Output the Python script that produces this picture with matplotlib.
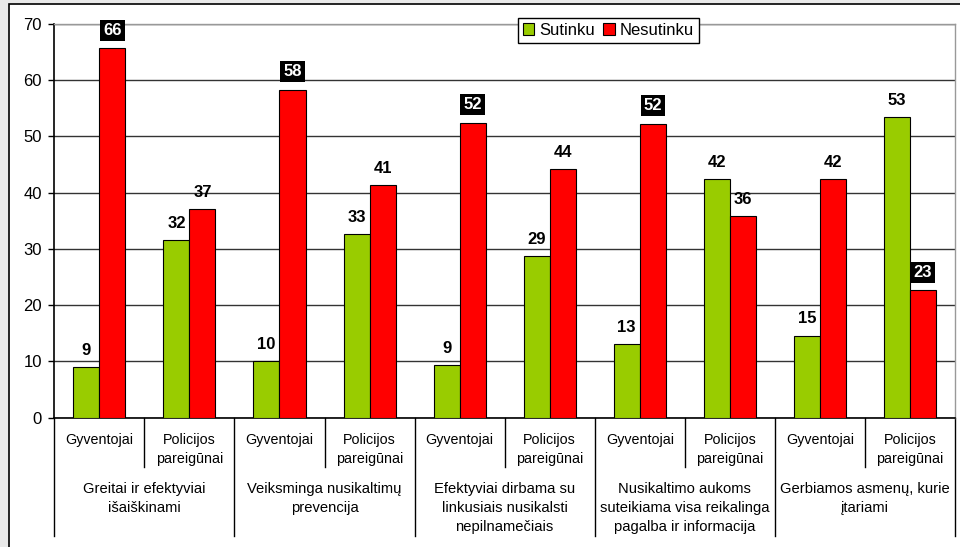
import matplotlib.pyplot as plt
from matplotlib.patches import Rectangle
import numpy as np

plt.rcParams['font.family'] = ['Liberation Sans', 'DejaVu Sans']

groups = ["Greitai ir efektyviai\nišaiškinami",
          "Veiksminga nusikaltimų\nprevencija",
          "Efektyviai dirbama su\nlinkusiais nusikalsti\nnepilnamečiais",
          "Nusikaltimo aukoms\nsuteikiama visa reikalinga\npagalba ir informacija",
          "Gerbiamos asmenų, kurie\nįtariami"]
subgroups = ["Gyventojai", "Policijos\npareigūnai"]
sutinku = [9.0, 31.6, 10.0, 32.6, 9.3, 28.8, 13.1, 42.4, 14.6, 53.4]
nesutinku = [65.6, 37.1, 58.3, 41.4, 52.4, 44.2, 52.2, 35.9, 42.4, 22.7]
# labels drawn white on black in the original
dark_labels = {("n", 0), ("n", 2), ("n", 4), ("n", 6), ("n", 9)}

W, H = 960, 547
fig = plt.figure(figsize=(W / 100, H / 100), dpi=100)
fig.patch.set_facecolor("#e9e9e9")

# white frame
fig.patches.append(Rectangle((9 / W, -0.1), 1.2, (H - 4) / H + 0.1,
                             transform=fig.transFigure, facecolor="white",
                             edgecolor="black", linewidth=1.2, zorder=-10))

x0, x1, ytop, ybot = 54.3, 955, 23.7, 417.7
ax = fig.add_axes([x0 / W, (H - ybot) / H, (x1 - x0) / W, (ybot - ytop) / H])
ax.set_facecolor("none")
ax.set_zorder(1)

n = len(sutinku)
x = np.arange(n)
w = 0.289
ax.bar(x - w / 2, sutinku, w, color="#99cc00", edgecolor="black", linewidth=0.8, label="Sutinku", zorder=3)
ax.bar(x + w / 2, nesutinku, w, color="#ff0000", edgecolor="black", linewidth=0.8, label="Nesutinku", zorder=3)

for key, vals, off in (("s", sutinku, -w / 2), ("n", nesutinku, w / 2)):
    for i, v in enumerate(vals):
        if (key, i) in dark_labels:
            ax.annotate(f"{round(v)}", (x[i] + off, v), xytext=(0, 7.5), textcoords="offset points",
                        ha="center", va="bottom", fontsize=12, fontweight="bold", color="white",
                        bbox=dict(boxstyle="square,pad=0.18", facecolor="black", edgecolor="none"),
                        zorder=5)
        else:
            ax.annotate(f"{round(v)}", (x[i] + off, v), xytext=(0, 6.5), textcoords="offset points",
                        ha="center", va="bottom", fontsize=12, fontweight="bold", color="black",
                        zorder=5)

ax.set_xlim(-0.5, n - 0.5)
ax.set_ylim(0, 70)
ax.set_yticks(range(0, 71, 10))
ax.yaxis.grid(True, color="#333333", linewidth=1.0)
ax.set_axisbelow(True)
ax.tick_params(axis="y", length=4, width=1, pad=5, labelsize=12)
ax.set_xticks([])

for s in ("left", "bottom"):
    ax.spines[s].set_color("black")
    ax.spines[s].set_linewidth(1.2)
for s in ("top", "right"):
    ax.spines[s].set_color("#999999")
    ax.spines[s].set_linewidth(1.0)

# category axis: separators and labels
trans = ax.get_xaxis_transform()
ph = ybot - ytop
def yf(py):
    return (ybot - py) / ph

for b in range(n + 1):
    bx = b - 0.5
    end = 536 if b % 2 == 0 else 467
    ax.plot([bx, bx], [0, yf(end)], color="black", linewidth=1.0, transform=trans, clip_on=False)

for i in range(n):
    lines = subgroups[i % 2].split("\n")
    for j, t in enumerate(lines):
        ax.text(x[i], yf(440 + 19 * j), t, transform=trans, ha="center", va="center", fontsize=10.3)

for g, label in enumerate(groups):
    for j, t in enumerate(label.split("\n")):
        ax.text(2 * g + 0.5, yf(489 + 19 * j), t, transform=trans, ha="center", va="center", fontsize=10.6)

leg = ax.legend(loc="upper left", bbox_to_anchor=((517.7 - x0) / (x1 - x0), yf(17.7)), ncol=2,
                fontsize=12, frameon=True, fancybox=False, edgecolor="black", framealpha=1,
                handlelength=0.7, handleheight=0.7, handletextpad=0.3, columnspacing=0.5,
                borderpad=0.3, borderaxespad=0)
leg.get_frame().set_linewidth(1.0)
leg.set_zorder(6)

fig.savefig("out.png", dpi=100, facecolor=fig.get_facecolor())
